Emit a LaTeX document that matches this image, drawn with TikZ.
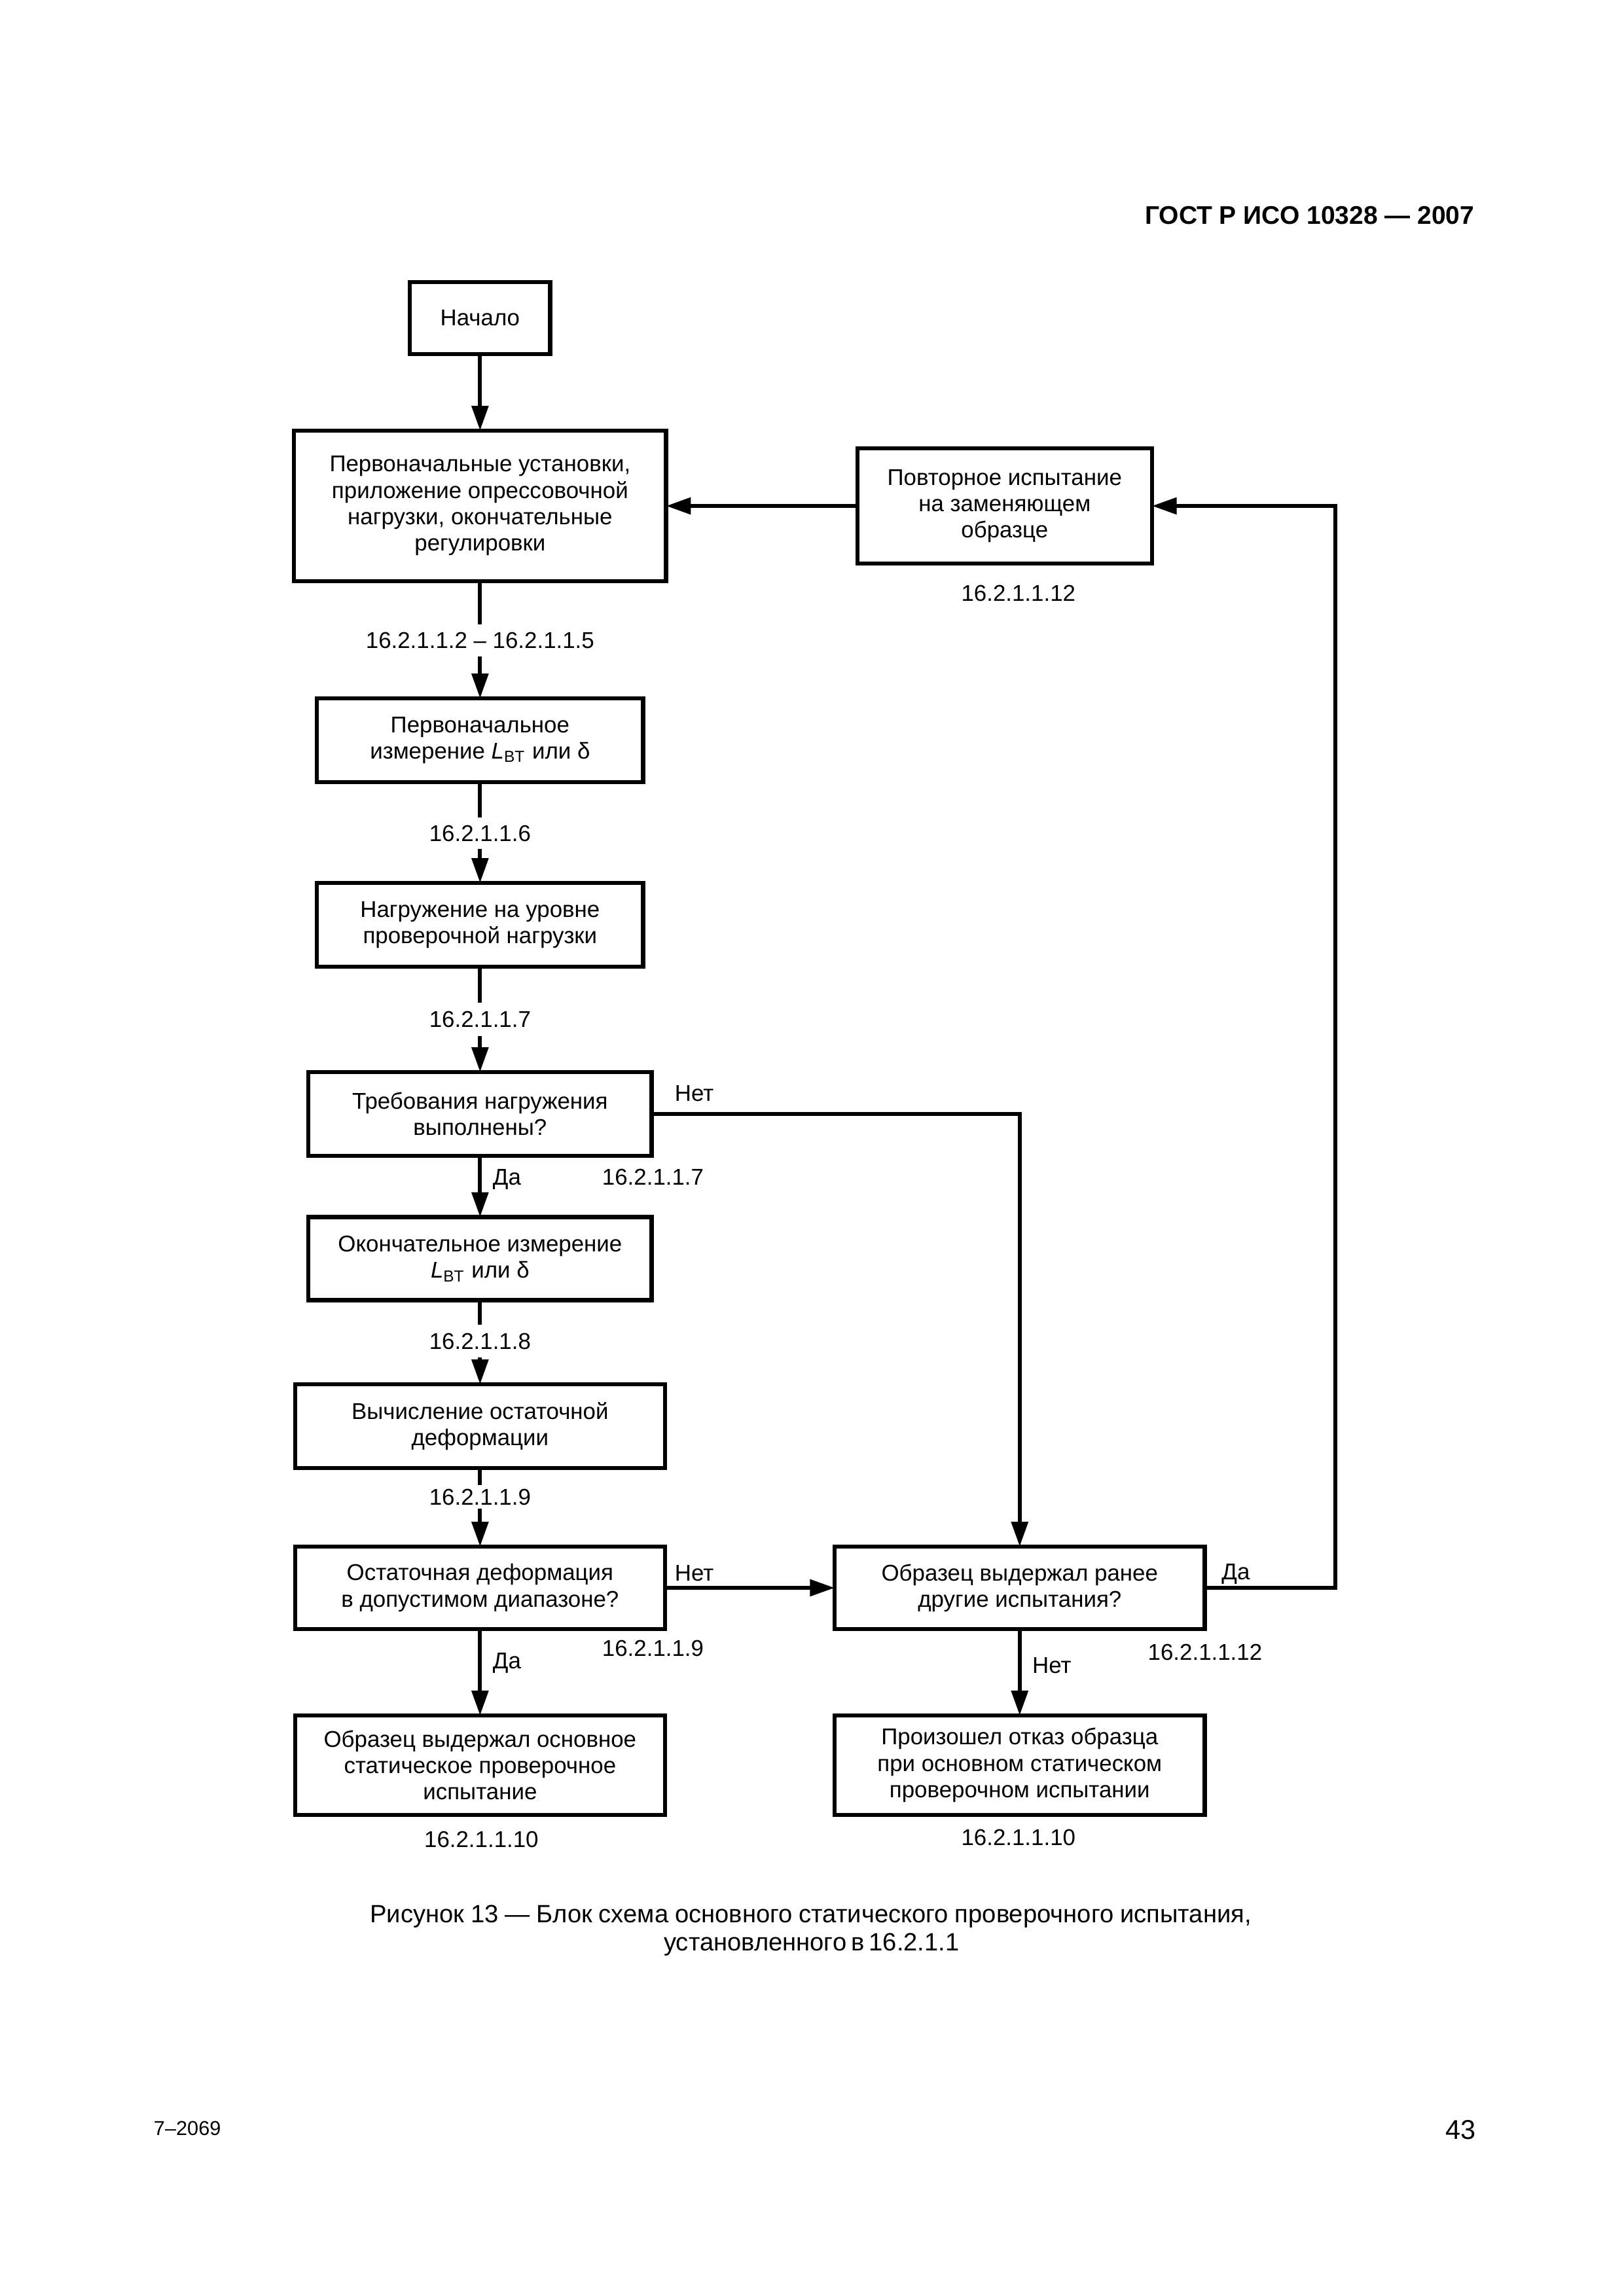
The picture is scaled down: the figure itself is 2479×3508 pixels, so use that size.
\documentclass[tikz,border=0pt]{standalone}
\usepackage{fontspec}
\setmainfont{Liberation Sans}
\usetikzlibrary{arrows.meta}
\newdimen\px \px=0.084711mm
\newcommand{\bxfont}{\fontsize{8.4}{9.7}\selectfont}
\begin{document}
\begin{tikzpicture}[x=0.084711mm,y=-0.084664mm,
  box/.style={draw,line width=1.5pt,inner sep=0pt,outer sep=0pt,align=center,font=\bxfont},
  lbl/.style={inner sep=0pt,outer sep=0pt,anchor=base,font=\bxfont},
  gap/.style={inner sep=0pt,outer sep=0pt,font=\bxfont},
  conn/.style={line width=1.5pt},
  arr/.style={conn,-{Triangle[length=3.2mm,width=2.1mm]}}]
\useasboundingbox (0,0) rectangle (2479,3508);

% header and footer
\node[anchor=base east,inner sep=0pt,font=\fontsize{9.4}{11}\selectfont\bfseries] (hdr) at (2252,342) {ГОСТ Р ИСО 10328 — 2007};
\node[anchor=base west,inner sep=0pt,font=\fontsize{7.4}{8}\selectfont] (ft1) at (234,3262) {7–2069};
\node[anchor=base east,inner sep=0pt,font=\fontsize{10}{12}\selectfont] (ft2) at (2254,3268) {43};

% boxes
\node[box,minimum width=214\px,minimum height=110\px] (start) at (733,486) {Начало};
\node[box,minimum width=568\px,minimum height=230\px] (setup) at (733,773) {Первоначальные установки,\\приложение опрессовочной\\нагрузки, окончательные\\регулировки};
\node[box,minimum width=450\px,minimum height=176\px] (retest) at (1534,773) {Повторное испытание\\на заменяющем\\образце};
\node[box,minimum width=498\px,minimum height=128\px] (meas1) at (733,1131) {Первоначальное\\измерение \textit{L}\textsubscript{BT} или δ};
\node[box,minimum width=498\px,minimum height=128\px] (load) at (733,1413) {Нагружение на уровне\\проверочной нагрузки};
\node[box,minimum width=524\px,minimum height=128\px] (req) at (733,1702) {Требования нагружения\\выполнены?};
\node[box,minimum width=524\px,minimum height=127\px] (meas2) at (733,1923) {Окончательное измерение\\\textit{L}\textsubscript{BT} или δ};
\node[box,minimum width=565\px,minimum height=128\px] (calc) at (733,2179) {Вычисление остаточной\\деформации};
\node[box,minimum width=565\px,minimum height=126\px] (resid) at (733,2426) {Остаточная деформация\\в допустимом диапазоне?};
\node[box,minimum width=565\px,minimum height=126\px] (prev) at (1557,2426) {Образец выдержал ранее\\другие испытания?};
\node[box,minimum width=565\px,minimum height=152\px] (pass) at (733,2697) {Образец выдержал основное\\статическое проверочное\\испытание};
\node[box,minimum width=565\px,minimum height=152\px] (fail) at (1557,2697) {Произошел отказ образца\\при основном статическом\\проверочном испытании};

% labels interrupting the main line
\node[gap,minimum height=49\px] (g1) at (733,978) {16.2.1.1.2 – 16.2.1.1.5};
\node[gap,minimum height=48\px] (g2) at (733,1273) {16.2.1.1.6};
\node[gap,minimum height=51\px] (g3) at (733,1557) {16.2.1.1.7};
\node[gap,minimum height=50\px] (g4) at (733,2049) {16.2.1.1.8};
\node[gap,minimum height=36\px] (g5) at (733,2287) {16.2.1.1.9};

% other labels
\node[lbl] (r12) at (1555,918) {16.2.1.1.12};
\node[lbl] (n1) at (1060,1682) {Нет};
\node[lbl] (d1) at (774,1810) {Да};
\node[lbl] (r7) at (997,1810) {16.2.1.1.7};
\node[lbl] (n2) at (1060,2415) {Нет};
\node[lbl] (r9) at (997,2530) {16.2.1.1.9};
\node[lbl] (d2) at (774,2549) {Да};
\node[lbl] (d3) at (1887,2413) {Да};
\node[lbl] (r12b) at (1840,2536) {16.2.1.1.12};
\node[lbl] (n3) at (1606,2556) {Нет};
\node[lbl] (l10a) at (735,2822) {16.2.1.1.10};
\node[lbl] (l10b) at (1555,2819) {16.2.1.1.10};

% caption
\node[anchor=base,inner sep=0pt,font=\fontsize{9.2}{11}\selectfont] (cap1) at (1238,2937) {\makebox[114mm][s]{Рисунок 13 — Блок схема основного статического проверочного испытания,}};
\node[anchor=base,inner sep=0pt,font=\fontsize{9.2}{11}\selectfont] (cap2) at (1238,2980) {\makebox[38mm][s]{установленного в 16.2.1.1}};

% connectors
\coordinate (loopx) at (2039,0);
\draw[arr] (start) -- (setup);
\draw[arr] (retest) -- (setup);
\draw[conn] (setup) -- (g1);
\draw[arr] (g1) -- (meas1);
\draw[conn] (meas1) -- (g2);
\draw[arr] (g2) -- (load);
\draw[conn] (load) -- (g3);
\draw[arr] (g3) -- (req);
\draw[arr] (req) -- (meas2);
\draw[conn] (meas2) -- (g4);
\draw[arr] (g4) -- (calc);
\draw[conn] (calc) -- (g5);
\draw[arr] (g5) -- (resid);
\draw[arr] (resid) -- (pass);
\draw[arr] (resid) -- (prev);
\draw[arr] (prev) -- (fail);
\draw[arr] (req.east) -| (prev.north);
\draw[arr] (prev.east) -- (prev.east -| loopx) |- (retest.east);
\end{tikzpicture}
\end{document}
